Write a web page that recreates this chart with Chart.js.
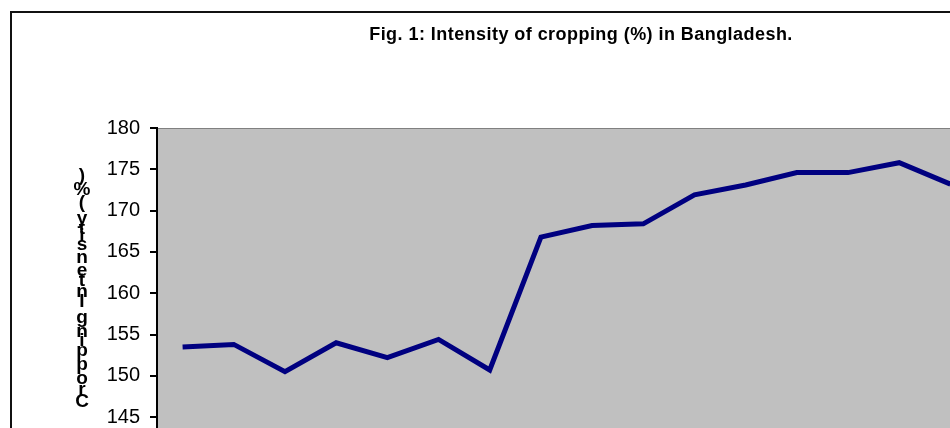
<!DOCTYPE html>
<html lang="en">
<head>
    <meta charset="UTF-8">
    <title>Intensity of cropping (%) in Bangladesh</title>
    <script src="https://cdn.jsdelivr.net/npm/chart.js"></script>
    <style>
        body { margin: 0; overflow: hidden; background: #fff; }
        #frame { position: absolute; left: 10px; top: 11px; width: 2000px; height: 2000px; border: 2px solid #111; }
        #cropChart { position: absolute; left: 0; top: 0; }
        #chartTitle {
            position: absolute; left: 0; top: 25px; width: 1162px; text-align: center;
            font: bold 18px/18px "Liberation Sans", Arial, sans-serif; letter-spacing: 0.45px; color: #000;
        }
    </style>
</head>
<body>
    <div id="frame"></div>
    <canvas id="cropChart" width="1162" height="600"></canvas>
    <div id="chartTitle">Fig. 1: Intensity of cropping (%) in Bangladesh.</div>
    <script>
        // Years (x axis, below the visible part of the picture)
        const years = ['1985', '1986', '1987', '1988', '1989', '1990', '1991', '1992',
                       '1993', '1994', '1995', '1996', '1997', '1998', '1999', '2000'];
        // Intensity of cropping (%)
        const intensity = [153.5, 153.8, 150.5, 154.0, 152.2, 154.4, 150.7, 166.8,
                           168.2, 168.4, 171.9, 173.1, 174.6, 174.6, 175.8, 173.2];
        const yMin = 130;
        const yMax = 180;
        const yStep = 5;
        const yTitle = 'Cropping Intensity (%)';

        // grey plot area like the old Excel charts
        const plotBackground = {
            id: 'plotBackground',
            beforeDraw(chart) {
                const { ctx, chartArea: a } = chart;
                ctx.save();
                ctx.fillStyle = '#c0c0c0';
                ctx.fillRect(a.left, a.top, a.right - a.left, a.bottom - a.top);
                ctx.strokeStyle = '#808080';
                ctx.lineWidth = 1;
                ctx.strokeRect(a.left + 0.5, a.top + 0.5, a.right - a.left - 1, a.bottom - a.top - 1);
                ctx.restore();
            }
        };

        // axis title: upright letters stacked from bottom to top
        const stackedTitle = {
            id: 'stackedTitle',
            afterDraw(chart) {
                const ctx = chart.ctx;
                ctx.save();
                ctx.font = 'bold 19px "Liberation Sans", Arial, sans-serif';
                ctx.fillStyle = '#000';
                ctx.textAlign = 'center';
                ctx.textBaseline = 'middle';
                const adv = yTitle.split('').map(ch => ctx.measureText(ch).width);
                const total = adv.reduce((s, v) => s + v, 0);
                const k = 238 / total;
                let y = 410;
                yTitle.split('').forEach((ch, i) => {
                    const h = adv[i] * k;
                    ctx.fillText(ch, 82, y - h / 2);
                    y -= h;
                });
                ctx.restore();
            }
        };

        const ctx = document.getElementById('cropChart').getContext('2d');
        new Chart(ctx, {
            type: 'line',
            data: {
                labels: years,
                datasets: [{
                    label: 'Intensity of cropping (%)',
                    data: intensity,
                    borderColor: '#000080',
                    borderWidth: 5,
                    pointRadius: 0,
                    tension: 0,
                    fill: false
                }]
            },
            options: {
                responsive: false,
                animation: false,
                layout: { padding: { left: 0, right: 186, top: 128, bottom: 0 } },
                plugins: {
                    legend: { display: false },
                    tooltip: { enabled: false },
                    title: { display: false }
                },
                scales: {
                    x: {
                        offset: true,
                        afterFit(scale) { scale.height = 59; },
                        grid: { display: false },
                        border: { color: '#000', width: 2 },
                        ticks: { color: '#000', font: { family: '"Liberation Sans", Arial', size: 18 } }
                    },
                    y: {
                        min: yMin,
                        max: yMax,
                        afterFit(scale) { scale.width = 157; },
                        ticks: {
                            stepSize: yStep,
                            color: '#000',
                            padding: 10,
                            font: { family: '"Liberation Sans", Arial', size: 20 }
                        },
                        grid: { drawOnChartArea: false, drawTicks: true, tickLength: 7, color: '#000', lineWidth: 2 },
                        border: { color: '#000', width: 2 }
                    }
                }
            },
            plugins: [plotBackground, stackedTitle]
        });
    </script>
</body>
</html>
